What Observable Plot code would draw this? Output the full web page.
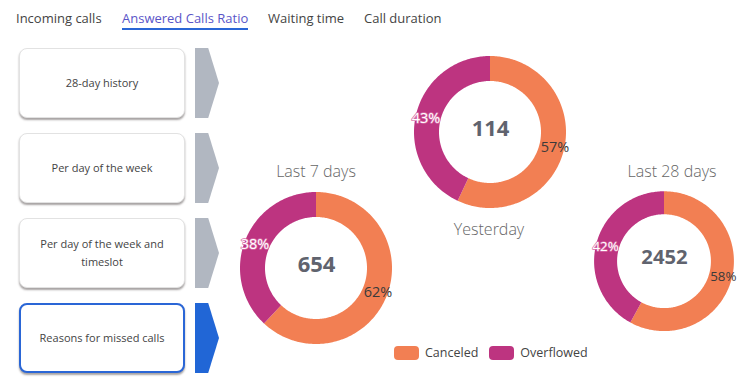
<!DOCTYPE html>
<html>
<head>
<meta charset="utf-8">
<script src="https://cdn.jsdelivr.net/npm/d3@7"></script>
<script src="https://cdn.jsdelivr.net/npm/@observablehq/plot@0.6"></script>
<style>
  html, body { margin: 0; padding: 0; background: #fff; }
  body { width: 756px; height: 385px; position: relative; overflow: hidden; font-family: "Open Sans", sans-serif; }
  .tab { position: absolute; top: 8px; font-size: 13px; color: #444; white-space: nowrap; line-height: 20px; }
  .tab.active { color: #5a55c8; }
  .tab.active::after { content: ""; position: absolute; left: 0; right: 0; top: 20px; height: 2px; background: #2a66d6; }
  .btn { position: absolute; left: 19px; width: 166px; height: 70px; box-sizing: border-box; border: 1px solid #e2e2e2; border-radius: 8px; box-shadow: 0 2px 2px rgba(60,50,50,0.45); display: flex; align-items: center; justify-content: center; text-align: center; font-size: 11px; line-height: 18px; color: #444; padding: 0 18px; background: #fff; }
  .btn.active { border: 2px solid #2a66d6; }
  .arrow { position: absolute; left: 195px; width: 24px; height: 70px; background: #b1b7c1; clip-path: polygon(0 0, 55% 0, 100% 50%, 55% 100%, 0 100%); }
  .arrow.active { background: #2166d6; }
  .title { position: absolute; transform: translate(-50%, -50%); font-size: 16px; font-weight: 300; color: #666; white-space: nowrap; }
  .donut { position: absolute; }
  .legend { position: absolute; top: 344px; left: 394px; display: flex; align-items: center; font-size: 12.5px; color: #444; }
  .sw { width: 25px; height: 14px; border-radius: 4px; display: inline-block; margin-right: 6px; }
  .item { display: flex; align-items: center; margin-right: 11px; }
</style>
</head>
<body>
<script>
// ---- data ----
const tabs = ["Incoming calls", "Answered Calls Ratio", "Waiting time", "Call duration"];
const activeTab = 1;
const buttons = ["28-day history", "Per day of the week", "Per day of the week and timeslot", "Reasons for missed calls"];
const activeButton = 3;
const periods = ["Yesterday", "Last 7 days", "Last 28 days"];
const totals = [114, 654, 2452];
const canceledPct = [57, 62, 58];
const overflowedPct = [43, 38, 42];
const categories = ["Canceled", "Overflowed"];
const colors = ["#f27f53", "#bd3480"];

// ---- layout (positions only) ----
const tabLeft = [16, 122, 268, 364];
const btnTop = [48, 133, 218, 303];
const donutCenters = [[489.5, 131.5], [316, 268], [672, 268]];
const titleCenters = [[489, 229], [316, 171], [672, 171]];

const body = document.body;
tabs.forEach((t, i) => {
  const el = document.createElement("div");
  el.className = "tab" + (i === activeTab ? " active" : "");
  el.style.left = tabLeft[i] + "px";
  el.textContent = t;
  body.appendChild(el);
});
buttons.forEach((b, i) => {
  const el = document.createElement("div");
  el.className = "btn" + (i === activeButton ? " active" : "");
  el.style.top = btnTop[i] + "px";
  el.textContent = b;
  body.appendChild(el);
  const ar = document.createElement("div");
  ar.className = "arrow" + (i === activeButton ? " active" : "");
  ar.style.top = btnTop[i] + "px";
  body.appendChild(ar);
});

const W = 200, H = 170, R = 76, inner = 51 / 76, labelR = 0.87;
periods.forEach((p, i) => {
  const segs = [
    {cat: categories[0], v: canceledPct[i]},
    {cat: categories[1], v: overflowedPct[i]}
  ];
  const arcs = d3.pie().sort(null).value(d => d.v)(segs);
  const pts = [];
  const labels = [];
  arcs.forEach(a => {
    const n = Math.max(2, Math.ceil((a.endAngle - a.startAngle) / (Math.PI / 180)));
    for (let k = 0; k <= n; k++) {
      const ang = a.startAngle + (a.endAngle - a.startAngle) * k / n;
      pts.push({cat: a.data.cat, x1: Math.sin(ang), y1: Math.cos(ang), x2: inner * Math.sin(ang), y2: inner * Math.cos(ang)});
    }
    const m = (a.startAngle + a.endAngle) / 2;
    labels.push({cat: a.data.cat, x: labelR * Math.sin(m), y: labelR * Math.cos(m), text: a.data.v + "%"});
  });
  const chart = Plot.plot({
    width: W, height: H, margin: 0,
    style: {fontFamily: "Open Sans", overflow: "visible", background: "transparent"},
    x: {domain: [-W / 2 / R, W / 2 / R], axis: null},
    y: {domain: [-H / 2 / R, H / 2 / R], axis: null},
    color: {domain: categories, range: colors},
    marks: [
      Plot.area(pts, {x1: "x1", y1: "y1", x2: "x2", y2: "y2", z: "cat", fill: "cat", curve: "linear"}),
      Plot.text([totals[i]], {x: () => 0, y: () => 0, dy: -4, text: d => String(d), fontSize: 22, fontWeight: 700, fill: "#60636e"}),
      Plot.text(labels.filter(d => d.cat === categories[0]), {x: "x", y: "y", text: "text", fontSize: 14.5, fill: "#3a3a3a"}),
      Plot.text(labels.filter(d => d.cat === categories[1]), {x: "x", y: "y", text: "text", fontSize: 14.5, fill: "white", stroke: "#d76aa6", strokeWidth: 1.5})
    ]
  });
  const wrap = document.createElement("div");
  wrap.className = "donut";
  wrap.style.left = (donutCenters[i][0] - W / 2) + "px";
  wrap.style.top = (donutCenters[i][1] - H / 2) + "px";
  wrap.appendChild(chart);
  body.appendChild(wrap);
  const t = document.createElement("div");
  t.className = "title";
  t.style.left = titleCenters[i][0] + "px";
  t.style.top = titleCenters[i][1] + "px";
  t.textContent = p;
  body.appendChild(t);
});

const legend = document.createElement("div");
legend.className = "legend";
categories.forEach((c, i) => {
  const it = document.createElement("div");
  it.className = "item";
  it.innerHTML = `<span class="sw" style="background:${colors[i]}"></span><span>${c}</span>`;
  legend.appendChild(it);
});
body.appendChild(legend);
</script>
</body>
</html>
